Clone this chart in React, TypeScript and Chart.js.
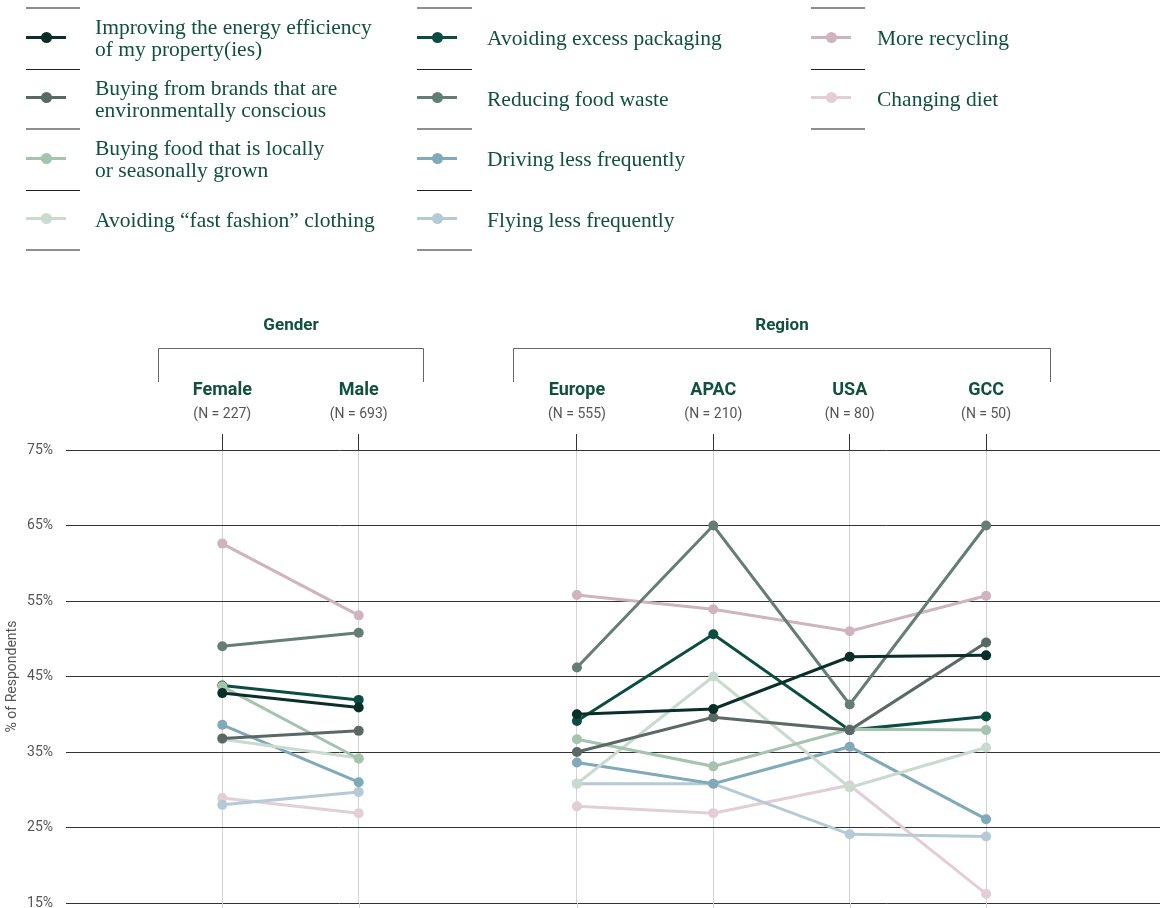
import React, { useEffect, useRef } from "react";
import { Chart, registerables } from "chart.js";

Chart.register(...registerables);

// ---- Data ---------------------------------------------------------------
const categories = ["Female", "Male", "Europe", "APAC", "USA", "GCC"];
const sampleSizes = [227, 693, 555, 210, 80, 50];
const groupNames = ["Gender", "Region"];
const categoryGroup = [0, 0, 1, 1, 1, 1];

const yTickValues = [15, 25, 35, 45, 55, 65, 75];

// Values per category, in the order of `categories` (% of respondents)
const energyEfficiency = [42.8, 40.9, 40.0, 40.7, 47.6, 47.8];
const consciousBrands = [36.8, 37.8, 35.0, 39.6, 37.9, 49.5];
const localFood = [43.7, 34.1, 36.7, 33.1, 38.0, 37.9];
const fastFashion = [36.7, 34.2, 30.8, 45.0, 30.3, 35.6];
const excessPackaging = [43.8, 41.9, 39.1, 50.6, 37.9, 39.7];
const foodWaste = [49.0, 50.8, 46.2, 65.0, 41.3, 65.0];
const drivingLess = [38.6, 31.0, 33.6, 30.8, 35.7, 26.1];
const flyingLess = [28.0, 29.7, 30.8, 30.8, 24.1, 23.8];
const moreRecycling = [62.6, 53.1, 55.8, 53.9, 51.0, 55.7];
const changingDiet = [28.9, 26.9, 27.8, 26.9, 30.6, 16.2];

const seriesLabels = [
  "Improving the energy efficiency\nof my property(ies)",
  "Buying from brands that are\nenvironmentally conscious",
  "Buying food that is locally\nor seasonally grown",
  "Avoiding \u201cfast fashion\u201d clothing",
  "Avoiding excess packaging",
  "Reducing food waste",
  "Driving less frequently",
  "Flying less frequently",
  "More recycling",
  "Changing diet",
];
const seriesValues = [
  energyEfficiency,
  consciousBrands,
  localFood,
  fastFashion,
  excessPackaging,
  foodWaste,
  drivingLess,
  flyingLess,
  moreRecycling,
  changingDiet,
];
const seriesColors = [
  "#0a2f29",
  "#5a6965",
  "#a5c3af",
  "#c9dbce",
  "#0b4d41",
  "#647e76",
  "#80a9b9",
  "#b5cad4",
  "#cfb3bf",
  "#e3ced7",
];

// ---- Layout / style ----------------------------------------------------
const TEXT_GREEN = "#11503f";
const GREY_TEXT = "#555555";
const SANS = "Roboto, 'Noto Sans', sans-serif";
const GROUP_GAP = 0.6; // extra space between the Gender and Region groups
const BRACKET_OVERHANG = 0.47;
const xPos = categories.map((_, i) => i + categoryGroup[i] * GROUP_GAP);
const X_MIN = -1.146;
const X_MAX = 6.875;

const W = 1160;
const H = 908;

// Points of one series; a null point between groups breaks the line.
function seriesPoints(vals: number[]) {
  const pts: { x: number; y: number | null }[] = [];
  vals.forEach((v, i) => {
    if (i > 0 && categoryGroup[i] !== categoryGroup[i - 1]) {
      pts.push({ x: (xPos[i] + xPos[i - 1]) / 2, y: null });
    }
    pts.push({ x: xPos[i], y: v });
  });
  return pts;
}

const headerPlugin = {
  id: "groupHeaders",
  afterDraw(chart: any) {
    const { ctx, chartArea } = chart;
    const x = chart.scales.x;
    const top = chartArea.top;
    ctx.save();

    // vertical guides continue below the bottom gridline
    ctx.strokeStyle = "#d4d4d4";
    ctx.lineWidth = 1;
    xPos.forEach((v) => {
      const px = Math.round(x.getPixelForValue(v)) + 0.5;
      ctx.beginPath();
      ctx.moveTo(px, chartArea.bottom);
      ctx.lineTo(px, chart.height);
      ctx.stroke();
    });

    // group titles and brackets
    groupNames.forEach((name, g) => {
      const members = xPos.filter((_, i) => categoryGroup[i] === g);
      const left = Math.round(x.getPixelForValue(members[0] - BRACKET_OVERHANG)) + 0.5;
      const right = Math.round(x.getPixelForValue(members[members.length - 1] + BRACKET_OVERHANG)) + 0.5;
      const yLine = top - 102 + 0.5;
      ctx.strokeStyle = "#666666";
      ctx.lineWidth = 1;
      ctx.beginPath();
      ctx.moveTo(left, top - 68);
      ctx.lineTo(left, yLine);
      ctx.lineTo(right, yLine);
      ctx.lineTo(right, top - 68);
      ctx.stroke();

      ctx.fillStyle = TEXT_GREEN;
      ctx.font = `bold 17px ${SANS}`;
      ctx.textAlign = "center";
      ctx.textBaseline = "middle";
      ctx.fillText(name, (left + right) / 2, top - 124);
    });

    // category names and sample sizes
    categories.forEach((name, i) => {
      const px = x.getPixelForValue(xPos[i]);
      ctx.textAlign = "center";
      ctx.textBaseline = "middle";
      ctx.fillStyle = TEXT_GREEN;
      ctx.font = `bold 18px ${SANS}`;
      ctx.fillText(name, px, top - 60);
      ctx.fillStyle = GREY_TEXT;
      ctx.font = `14px ${SANS}`;
      ctx.fillText(`(N = ${sampleSizes[i]})`, px, top - 36);
    });
    ctx.restore();
  },
};

// ---- Legend --------------------------------------------------------------
const legendColumns = [
  { iconLeft: 26, textLeft: 95, sepWidth: 54, items: [0, 1, 2, 3] },
  { iconLeft: 417, textLeft: 487, sepWidth: 55, items: [4, 5, 6, 7] },
  { iconLeft: 811, textLeft: 877, sepWidth: 54, items: [8, 9] },
];
const LEGEND_TOP = 8;
const LEGEND_ROW = 60.5;

function Legend() {
  const nodes: any[] = [];
  legendColumns.forEach((col, c) => {
    for (let r = 0; r <= col.items.length; r++) {
      const dark = r % 2 === 1;
      nodes.push(
        <div
          key={`sep-${c}-${r}`}
          style={{
            position: "absolute",
            left: col.iconLeft,
            top: Math.round(LEGEND_TOP + r * LEGEND_ROW) - (dark ? 0 : 1),
            width: col.sepWidth,
            height: dark ? 1 : 2,
            background: dark ? "#222222" : "#8e8e8e",
          }}
        />
      );
    }
    col.items.forEach((s, r) => {
      const top = LEGEND_TOP + r * LEGEND_ROW;
      const color = seriesColors[s];
      nodes.push(
        <div
          key={`icon-${s}`}
          style={{
            position: "absolute",
            left: col.iconLeft,
            top: top + LEGEND_ROW / 2 - 1.5 - 1,
            width: 40,
            height: 3,
            background: color,
          }}
        />
      );
      nodes.push(
        <div
          key={`dot-${s}`}
          style={{
            position: "absolute",
            left: col.iconLeft + 20 - 5.5,
            top: top + LEGEND_ROW / 2 - 5.5 - 1,
            width: 11,
            height: 11,
            borderRadius: "50%",
            background: color,
          }}
        />
      );
      nodes.push(
        <div
          key={`txt-${s}`}
          style={{
            position: "absolute",
            left: col.textLeft,
            top,
            height: LEGEND_ROW,
            display: "flex",
            alignItems: "center",
            whiteSpace: "pre-line",
            fontFamily: "'Liberation Serif', serif",
            fontSize: 21.5,
            lineHeight: "22px",
            color: TEXT_GREEN,
          }}
        >
          {seriesLabels[s]}
        </div>
      );
    });
  });
  return <>{nodes}</>;
}

export default function App() {
  const canvasRef = useRef<HTMLCanvasElement | null>(null);

  useEffect(() => {
    if (!canvasRef.current) return;
    const datasets = seriesValues.map((vals, s) => ({
      label: seriesLabels[s].replace("\n", " "),
      data: seriesPoints(vals),
      borderColor: seriesColors[s],
      backgroundColor: seriesColors[s],
      pointBackgroundColor: seriesColors[s],
      pointBorderWidth: 0,
      pointRadius: 5,
      borderWidth: 3,
      tension: 0,
      fill: false,
      spanGaps: false,
    }));

    const chart = new Chart(canvasRef.current, {
      type: "line",
      data: { datasets },
      options: {
        responsive: false,
        animation: false,
        events: [],
        layout: {
          autoPadding: false,
          padding: { top: 434, right: 0, bottom: 5, left: 0 },
        },
        plugins: {
          legend: { display: false },
          tooltip: { enabled: false },
        },
        scales: {
          x: {
            type: "linear",
            position: "top",
            min: X_MIN,
            max: X_MAX,
            afterBuildTicks: (scale: any) => {
              scale.ticks = xPos.map((v) => ({ value: v }));
            },
            afterFit: (scale: any) => {
              scale.paddingLeft = 0;
              scale.paddingRight = 0;
            },
            ticks: { display: false },
            grid: {
              color: "#d4d4d4",
              tickColor: "#333333",
              tickLength: 16,
              lineWidth: 1,
            },
            border: { display: false },
          },
          y: {
            type: "linear",
            min: 15,
            max: 75,
            afterBuildTicks: (scale: any) => {
              scale.ticks = yTickValues.map((v) => ({ value: v }));
            },
            afterFit: (scale: any) => {
              scale.width = 66;
              scale.paddingTop = 0;
              scale.paddingBottom = 0;
            },
            ticks: {
              callback: (v: any) => `${v}%`,
              color: GREY_TEXT,
              padding: 13,
              font: { family: SANS, size: 14 },
            },
            grid: { color: "#333333", drawTicks: false, lineWidth: 1 },
            border: { display: false },
            title: {
              display: true,
              text: "% of Respondents",
              color: GREY_TEXT,
              padding: { top: 4, bottom: 0 },
              font: { family: SANS, size: 14 },
            },
          },
        },
      } as any,
      plugins: [headerPlugin],
    });
    return () => chart.destroy();
  }, []);

  return (
    <div
      style={{
        position: "absolute",
        left: 0,
        top: 0,
        width: W,
        height: H,
        overflow: "hidden",
        background: "#ffffff",
      }}
    >
      <canvas
        ref={canvasRef}
        width={W}
        height={H}
        style={{ position: "absolute", left: 0, top: 0, width: W, height: H }}
      />
      <Legend />
    </div>
  );
}
